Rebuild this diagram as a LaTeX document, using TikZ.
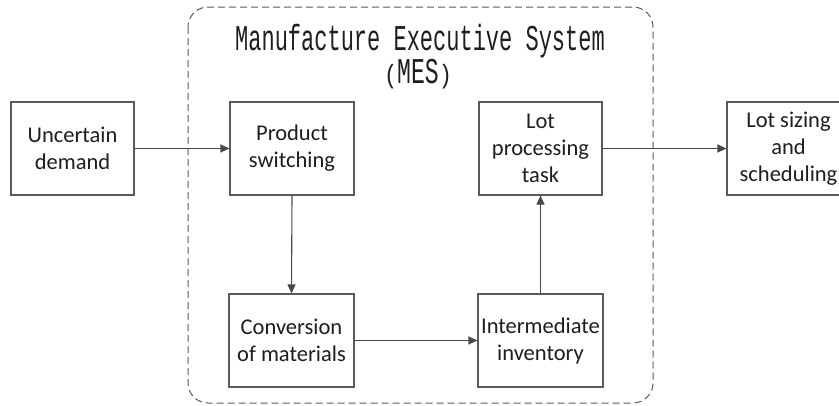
\documentclass[tikz,border=0pt]{standalone}
\usepackage{fontspec}
\setmainfont{Carlito}
\newfontfamily\titlefont{Liberation Mono}
\usetikzlibrary{arrows.meta}
\definecolor{edgegray}{HTML}{5A5A5A}
\definecolor{linkgray}{HTML}{484848}
\definecolor{txt}{HTML}{1E1E1E}
\tikzset{
  blockbox/.style={draw=edgegray, line width=1.1pt, fill=white, inner sep=0pt,
    minimum width=123pt, minimum height=93pt, align=center, text=txt,
    font=\fontsize{22.5}{27}\selectfont},
  link/.style={draw=linkgray, line width=1.1pt,
    -{Triangle[length=9pt, width=8pt]}},
  frame/.style={draw=edgegray, line width=1pt, dash pattern=on 7pt off 4pt,
    rounded corners=20pt},
  titletext/.style={text=txt, inner sep=0pt, anchor=base, align=center,
    font=\titlefont\fontsize{22}{29}\selectfont}
}
\begin{document}
\begin{tikzpicture}[x=1pt, y=-1pt]
\useasboundingbox (0,0) rectangle (839,405);
\begin{scope}
\clip (0,0) rectangle (839,405);

% MES boundary
\draw[frame] (188,7) rectangle (653,403);

% title of the system (two lines, tall narrow lettering);
% the base anchor sits on the baseline of the second line
\node[titletext] (title) at (420,83)
  {\scalebox{1}[1.65]{Manufacture Executive System}\\
   \hspace*{-4pt}\scalebox{1}[1.2]{(}\scalebox{1.05}[1.65]{MES}\scalebox{1}[1.2]{)}};

% blocks
\node[blockbox] (ud) at (72.5,148.5) {Uncertain\\demand};
\node[blockbox, minimum width=124pt] (ps) at (292,148.5) {Product\\switching};
\node[blockbox] (lp) at (540.5,148.5) {Lot\\processing\\task};
\node[blockbox] (ls) at (788.5,148.5) {Lot sizing\\and\\scheduling};
\node[blockbox, minimum width=125pt] (cm) at (291.5,340.5) {Conversion\\of materials};
\node[blockbox, minimum width=125pt] (ii) at (540.5,340.5) {Intermediate\\inventory};

% flow
\draw[link] (ud.east) -- (ps.west);
\draw[link] (ps.south) -- (cm.north);
\draw[link] (cm.east) -- (ii.west);
\draw[link] (ii.north) -- (lp.south);
\draw[link] (lp.east) -- (ls.west);
\end{scope}
\end{tikzpicture}
\end{document}
